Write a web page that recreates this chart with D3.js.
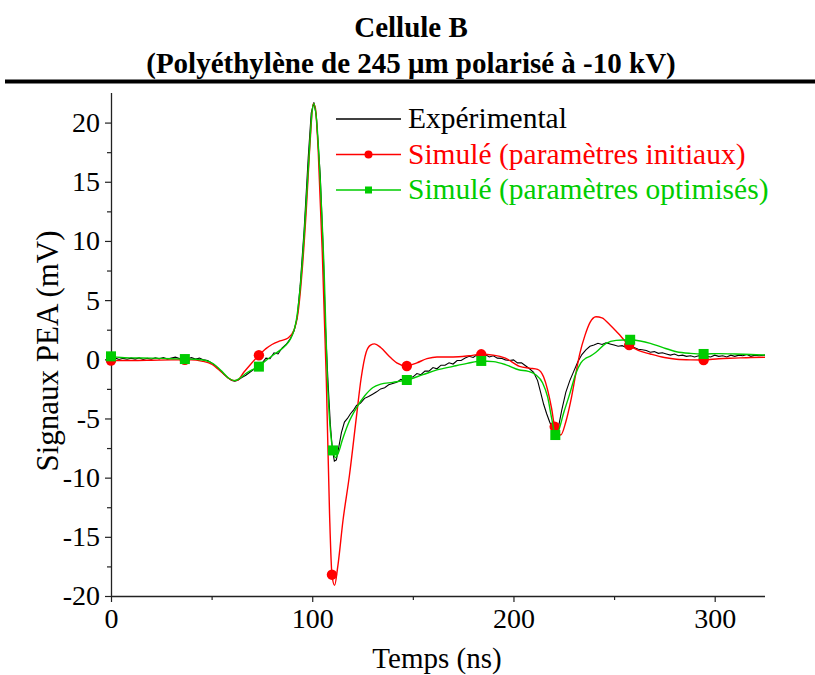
<!DOCTYPE html>
<html><head><meta charset="utf-8">
<script src="https://cdn.jsdelivr.net/npm/d3@7"></script>
<style>
body{margin:0;background:#fff}
svg{display:block}
svg text{font-family:"Liberation Serif","Times New Roman",serif !important}
</style>
</head><body>
<svg id="chart" width="815" height="675"></svg>
<script>
// ---------- DATA ----------
const titleLines = ["Cellule B", "(Polyéthylène de 245 μm polarisé à -10 kV)"];
const xLabel = "Temps (ns)";
const yLabel = "Signaux PEA (mV)";
const xTicks = [0, 100, 200, 300];
const xMinorTicks = [50, 150, 250];
const yTicks = [-20, -15, -10, -5, 0, 5, 10, 15, 20];
const yMinorTicks = [-17.5, -12.5, -7.5, -2.5, 2.5, 7.5, 12.5, 17.5];
const seriesNames = ["Expérimental", "Simulé (paramètres initiaux)", "Simulé (paramètres optimisés)"];

// Experimental signal [t (ns), mV]
const experimental = [
[0,0.05],[2,0.12],[4,-0.02],[6,0.08],[8,0.0],[10,0.1],[12,0.02],[14,0.12],[16,-0.02],[18,0.08],
[20,0.0],[22,0.12],[24,0.04],[26,0.15],[28,0.02],[30,0.1],[32,0.18],[34,0.06],[36,0.15],[38,0.05],
[40,0.14],[42,0.02],[44,0.1],[46,-0.05],[48,-0.1],[50,-0.3],[52,-0.55],[54,-0.9],[56,-1.25],[58,-1.55],
[60,-1.8],[61.5,-1.85],[63,-1.78],[65,-1.55],[67,-1.35],[69,-1.1],[71,-0.85],[73,-0.6],[75,-0.35],[77,0.1],
[79,0.05],[81,0.55],[83,0.45],[85,0.95],[87,1.25],[89,1.7],[91,2.4],[92.5,3.5],[94,6.2],[96,11],
[98,17],[99.5,20.8],[100.8,21.7],[102,20.6],[104,15.5],[105.5,9],[106.5,3],[107.8,-1.75],[109,-5.5],[110,-7.6],
[111,-8.6],[112,-8.5],[113,-7.6],[114.5,-6.2],[116,-5.3],[117.5,-5.0],[119,-4.6],[120.5,-4.3],[122,-3.9],[124,-3.7],
[126,-3.3],[128,-3.15],[130,-2.95],[132,-2.75],[134,-2.5],[136,-2.4],[138,-2.15],[140,-2.05],[142,-1.95],[144,-1.7],
[146,-1.8],[148,-1.5],[150,-1.5],[152,-1.2],[154,-1.3],[156,-1.0],[158,-1.0],[160,-0.7],[162,-0.8],[164,-0.5],
[166,-0.5],[168,-0.3],[170,-0.4],[172,-0.1],[174,-0.1],[176,0.1],[178,0.25],[180,0.15],[182,0.4],[184,0.3],
[186,0.4],[188,0.2],[190,0.3],[192,0.1],[194,0.08],[196,-0.05],[198,-0.1],[200,-0.05],[202,-0.3],[204,-0.3],
[206,-0.55],[208,-0.8],[210,-1.1],[212,-1.8],[213.5,-2.8],[215,-3.8],[216.5,-4.6],[218,-5.3],[219.5,-5.9],[221,-6.2],
[222.5,-5.6],[224,-4.3],[226,-2.8],[228,-1.8],[230,-1.0],[232,-0.2],[234,0.4],[236,0.8],[238,1.1],[240,1.2],
[242,1.35],[244,1.25],[246,1.4],[248,1.3],[250,1.2],[252,1.1],[254,1.15],[256,1.0],[258,0.95],[260,1.0],
[262,0.85],[264,0.8],[266,0.75],[268,0.6],[270,0.65],[272,0.5],[274,0.55],[276,0.45],[278,0.35],[280,0.45],
[282,0.3],[284,0.35],[286,0.25],[288,0.3],[290,0.2],[292,0.3],[294,0.2],[296,0.25],[298,0.2],[300,0.35],
[302,0.25],[304,0.3],[306,0.2],[308,0.35],[310,0.25],[312,0.35],[314,0.3],[316,0.4],[318,0.25],[320,0.35],
[322,0.3],[325,0.35]
];

// Simulated, initial parameters
const simInitial = [
[0,-0.1],[10,-0.1],[20,-0.08],[30,-0.05],[40,-0.05],[45,-0.15],[50,-0.4],[55,-1.1],[58,-1.55],[61,-1.8],
[63,-1.75],[66,-1.1],[69,-0.5],[73.5,0.34],[77,0.9],[80,1.25],[84,1.55],[88,1.8],[91,2.5],[93,4.0],
[95,7.5],[97,12.5],[99,18.5],[100.5,21.6],[101.5,21.3],[103,17.5],[105,9],[107,-1.75],[108.6,-13],[109.8,-18.2],
[111.1,-19.1],[112.7,-17.5],[115.3,-13.6],[118.5,-9.8],[122,-4.8],[124.3,-1.6],[126.8,0.6],[129,1.2],[131,1.3],[134,1.0],
[138,0.3],[142,-0.3],[147,-0.57],[152,-0.3],[157,0.05],[162,0.2],[170,0.2],[178,0.3],[184,0.42],[190,0.35],
[196,0.1],[203,-0.6],[208,-0.75],[212,-0.85],[215,-1.5],[217,-2.6],[219,-4.2],[220.5,-5.7],[223.5,-6.4],[226,-5.3],
[228.5,-3.5],[231,-1.2],[233,0.5],[235.5,2.0],[238,3.1],[241,3.6],[244,3.5],[248,2.9],[252,2.2],[257.5,1.2],
[262,0.75],[268,0.45],[275,0.15],[281,0],[288,-0.05],[294.5,-0.06],[302,0.05],[310,0.1],[318,0.15],[325,0.17]
];
const simInitialMarkers = [
[0,-0.1],[36.7,-0.05],[73.5,0.34],[109.8,-18.2],[147,-0.57],[184,0.42],[220.5,-5.7],[257.5,1.2],[294.5,-0.06]
];

// Simulated, optimised parameters
const simOptimised = [
[0,0.25],[5,0.15],[10,0.12],[20,0.1],[30,0.05],[36.7,0.02],[42,0],[47,-0.1],[51,-0.4],[55,-1.0],
[58.5,-1.6],[61.5,-1.8],[64,-1.6],[67,-1.2],[70,-0.9],[73.5,-0.62],[77,-0.1],[81,0.4],[85,0.9],[88,1.4],
[90,2.0],[92,3.2],[94,6],[96,10.5],[98,16],[100,21],[100.8,21.6],[102,20.5],[104,15],[106,7],
[107.5,-1.5],[109,-6],[110.3,-7.7],[111.5,-8.3],[113,-7.9],[115,-6.8],[118,-5.4],[122,-4.1],[126,-3.1],[130,-2.4],
[134,-2.1],[140,-1.95],[147,-1.75],[155,-1.3],[162,-0.9],[170,-0.6],[177,-0.35],[184,-0.14],[190,-0.2],[196,-0.45],
[203,-0.9],[207,-1.0],[211,-1.3],[214.5,-2.0],[217,-3.2],[219,-5],[220.8,-6.4],[222,-6.2],[225,-4.5],[228,-2.9],
[231,-1.2],[233.5,-0.3],[236,0.1],[238,0.25],[241,0.6],[246,1.35],[251,1.6],[258,1.65],[263,1.55],[268,1.35],
[274,1.0],[281,0.64],[288,0.5],[294.5,0.45],[302,0.48],[310,0.45],[318,0.4],[325,0.36]
];
const simOptimisedMarkers = [
[0,0.25],[36.7,0.02],[73.5,-0.62],[110.3,-7.7],[147,-1.75],[184,-0.14],[220.8,-6.4],[258,1.65],[294.5,0.45]
];

// ---------- CHART ----------
const FONT = '"Liberation Serif","Times New Roman",serif';
const svg = d3.select("#chart");
const plot = {left: 111, right: 765, top: 93, bottom: 596};
const x = d3.scaleLinear().domain([0, 325]).range([plot.left, plot.right]);
const y = d3.scaleLinear().domain([-20, 22.5]).range([plot.bottom, plot.top]);

function txt(sel) { return sel.style("font-family", FONT); }

// Title
txt(svg.append("text")).attr("x", 411).attr("y", 37).attr("text-anchor", "middle")
  .attr("font-size", 29).attr("font-weight", "bold").text(titleLines[0]);
txt(svg.append("text")).attr("x", 411).attr("y", 73).attr("text-anchor", "middle")
  .attr("font-size", 29).attr("font-weight", "bold").text(titleLines[1]);
svg.append("rect").attr("x", 5).attr("y", 79.5).attr("width", 810).attr("height", 4).attr("fill", "#000");

// Axes
const axisColor = "#222";
const gx = svg.append("g").attr("transform", `translate(0,${plot.bottom})`)
  .call(d3.axisBottom(x).tickValues(xTicks).tickSize(6).tickPadding(6).tickFormat(d => String(d)));
const gxm = svg.append("g").attr("transform", `translate(0,${plot.bottom})`)
  .call(d3.axisBottom(x).tickValues(xMinorTicks).tickSize(4).tickFormat(""));
const gy = svg.append("g").attr("transform", `translate(${plot.left},0)`)
  .call(d3.axisLeft(y).tickValues(yTicks).tickSize(6).tickPadding(5).tickFormat(d => String(d)));
const gym = svg.append("g").attr("transform", `translate(${plot.left},0)`)
  .call(d3.axisLeft(y).tickValues(yMinorTicks).tickSize(4).tickFormat(""));
[gx, gxm, gy, gym].forEach(g => {
  g.attr("font-family", FONT);
  g.select(".domain").attr("stroke", axisColor).attr("stroke-width", 1.3);
  g.selectAll(".tick line").attr("stroke", axisColor).attr("stroke-width", 1.2);
  txt(g.selectAll(".tick text")).attr("fill", "#000").attr("font-size", 28);
});
gxm.select(".domain").remove(); gym.select(".domain").remove();
gy.select(".domain").attr("d", `M0.5,${plot.top}V${plot.bottom}`);
gx.select(".domain").attr("d", `M${plot.left},0.5H${plot.right}`);

// Axis titles
txt(svg.append("text")).attr("x", 437).attr("y", 668).attr("text-anchor", "middle")
  .attr("font-size", 29).text(xLabel);
txt(svg.append("text")).attr("transform", "translate(58,351) rotate(-90)").attr("text-anchor", "middle")
  .attr("font-size", 31).text(yLabel);

// Lines
const line = d3.line().x(d => x(d[0])).y(d => y(d[1]));
const smooth = d3.line().x(d => x(d[0])).y(d => y(d[1])).curve(d3.curveMonotoneX);
const plotG = svg.append("g");
plotG.append("path").datum(experimental).attr("d", line)
  .attr("fill", "none").attr("stroke", "#000").attr("stroke-width", 1.1);
plotG.append("path").datum(simInitial).attr("d", smooth)
  .attr("fill", "none").attr("stroke", "#ff0000").attr("stroke-width", 1.4);
plotG.selectAll("circle.mi").data(simInitialMarkers).enter().append("circle").attr("class", "mi")
  .attr("cx", d => x(d[0])).attr("cy", d => y(d[1])).attr("r", 5.2).attr("fill", "#ff0000");
plotG.append("path").datum(simOptimised).attr("d", smooth)
  .attr("fill", "none").attr("stroke", "#00cc00").attr("stroke-width", 1.4);
plotG.selectAll("rect.mo").data(simOptimisedMarkers).enter().append("rect").attr("class", "mo")
  .attr("x", d => x(d[0]) - 5).attr("y", d => y(d[1]) - 5).attr("width", 10).attr("height", 10).attr("fill", "#00cc00");

// Legend
const legColors = ["#000", "#ff0000", "#00cc00"];
const leg = svg.append("g");
seriesNames.forEach((name, i) => {
  const cy = 119 + i * 35.5;
  leg.append("line").attr("x1", 336).attr("x2", 401).attr("y1", cy).attr("y2", cy)
    .attr("stroke", legColors[i]).attr("stroke-width", 1.3);
  if (i === 1) leg.append("circle").attr("cx", 368.5).attr("cy", cy).attr("r", 4).attr("fill", legColors[i]);
  if (i === 2) leg.append("rect").attr("x", 365).attr("y", cy - 3.5).attr("width", 7).attr("height", 7).attr("fill", legColors[i]);
  txt(leg.append("text")).attr("x", 408).attr("y", cy + 9).attr("font-size", 29.5).attr("fill", legColors[i]).text(name);
});
</script>
</body></html>
